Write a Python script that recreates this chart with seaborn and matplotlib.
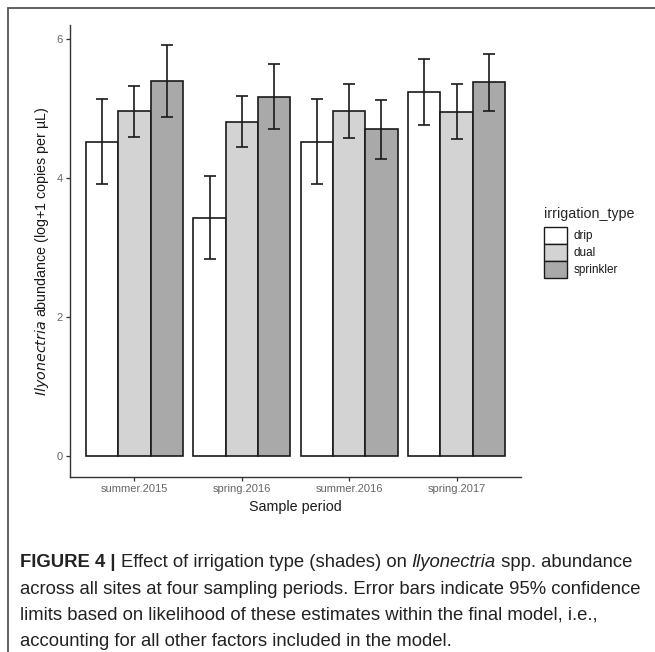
import matplotlib
matplotlib.use("Agg")
import matplotlib.pyplot as plt
import seaborn as sns
import pandas as pd
import numpy as np
from matplotlib.patches import Patch
from matplotlib.lines import Line2D

periods = ["summer.2015", "spring.2016", "summer.2016", "spring.2017"]
irrigation = ["drip", "dual", "sprinkler"]
shades = ["#ffffff", "#d3d3d3", "#a9a9a9"]

# estimated abundance per period (rows) and irrigation type (columns)
abundance = [
    [4.52, 4.96, 5.40],
    [3.43, 4.81, 5.17],
    [4.52, 4.97, 4.70],
    [5.23, 4.95, 5.38],
]
ci_low = [
    [3.91, 4.59, 4.88],
    [2.84, 4.44, 4.71],
    [3.92, 4.58, 4.28],
    [4.76, 4.56, 4.97],
]
ci_high = [
    [5.13, 5.33, 5.91],
    [4.03, 5.18, 5.64],
    [5.13, 5.35, 5.12],
    [5.71, 5.35, 5.79],
]
y_ticks = [0, 2, 4, 6]

rows = []
for i, p in enumerate(periods):
    for j, t in enumerate(irrigation):
        rows.append(dict(period=p, irrigation_type=t, value=abundance[i][j],
                         lo=ci_low[i][j], hi=ci_high[i][j]))
df = pd.DataFrame(rows)

sns.set_style("white")
plt.rcParams["font.family"] = ["Liberation Sans", "DejaVu Sans"]

W, H = 655, 652
fig = plt.figure(figsize=(W / 100, H / 100), dpi=100)
ax = fig.add_axes([70 / W, 1 - 477 / H, (521 - 70) / W, (477 - 25) / H])

sns.barplot(data=df, x="period", y="value", hue="irrigation_type",
            order=periods, hue_order=irrigation, palette=shades,
            width=0.9, errorbar=None, edgecolor="#1a1a1a", linewidth=1.2,
            legend=False, ax=ax)

# error bars centred on each drawn bar
for bar_group, t in zip(ax.containers, irrigation):
    sub = df[df.irrigation_type == t].set_index("period").loc[periods]
    xs = [b.get_x() + b.get_width() / 2 for b in bar_group]
    ys = sub["value"].to_numpy()
    err = np.vstack([ys - sub["lo"].to_numpy(), sub["hi"].to_numpy() - ys])
    ax.errorbar(xs, ys, yerr=err, fmt="none", ecolor="#1a1a1a",
                elinewidth=1.2, capsize=4.5, capthick=1.2)

ax.set_xlim(-0.6, 3.6)
ax.set_ylim(-0.296, 6.2)
ax.set_yticks(y_ticks)
ax.set_yticklabels([str(v) for v in y_ticks])

for side in ["top", "right"]:
    ax.spines[side].set_visible(False)
for side in ["left", "bottom"]:
    ax.spines[side].set_color("#333333")
    ax.spines[side].set_linewidth(1.0)
ax.tick_params(axis="both", which="both", direction="out", length=3, width=0.9,
               color="#333333", labelcolor="#666666", labelsize=8, pad=2,
               left=True, bottom=True)

ax.set_xlabel("Sample period", fontsize=10.3, color="#1a1a1a", labelpad=4)
ax.set_ylabel(r"$\it{Ilyonectria}$ abundance (log+1 copies per µL)",
              fontsize=10.3, color="#1a1a1a", labelpad=4)

# legend
handles = [Patch(facecolor=c, edgecolor="#1a1a1a", linewidth=1.0, label=t)
           for c, t in zip(shades, irrigation)]
leg = fig.legend(handles=handles, title="irrigation_type", frameon=False,
                 loc="upper left", bbox_to_anchor=(536 / W, 1 - 199 / H),
                 fontsize=8.5, title_fontsize=10.3, handlelength=1.9,
                 handleheight=1.83, handletextpad=0.55, labelspacing=0.0,
                 borderpad=0.2)
leg._legend_box.align = "left"
leg._legend_box.sep = 4
for txt in leg.get_texts():
    txt.set_color("#1a1a1a")

# page frame lines
fig.add_artist(Line2D([7.5 / W, 1], [1 - 8 / H, 1 - 8 / H], color="#555555",
                      linewidth=1.3, transform=fig.transFigure))
fig.add_artist(Line2D([7.5 / W, 7.5 / W], [0, 1 - 8 / H], color="#555555",
                      linewidth=1.3, transform=fig.transFigure))

# caption, written piece by piece on a shared baseline
cap_font = ["Liberation Sans", "DejaVu Sans"]
cap_size = 13.3
cap_color = "#222222"
x0 = 20
line_y = [567, 593.5, 620, 646.5]
caption = [
    [("FIGURE 4 | ", "bold", "normal"),
     ("Effect of irrigation type (shades) on ", "normal", "normal"),
     ("Ilyonectria", "normal", "italic"),
     (" spp. abundance", "normal", "normal")],
    [("across all sites at four sampling periods. Error bars indicate 95% confidence",
      "normal", "normal")],
    [("limits based on likelihood of these estimates within the final model, i.e.,",
      "normal", "normal")],
    [("accounting for all other factors included in the model.", "normal", "normal")],
]
renderer = fig.canvas.get_renderer()
for y_px, pieces in zip(line_y, caption):
    x_px = x0
    for text, weight, style in pieces:
        t = fig.text(x_px / W, 1 - y_px / H, text, fontsize=cap_size,
                     family=cap_font, color=cap_color, fontweight=weight,
                     fontstyle=style, va="baseline", ha="left")
        bb = t.get_window_extent(renderer)
        x_px = bb.x1

fig.savefig("out.png", dpi=100, facecolor="white")
